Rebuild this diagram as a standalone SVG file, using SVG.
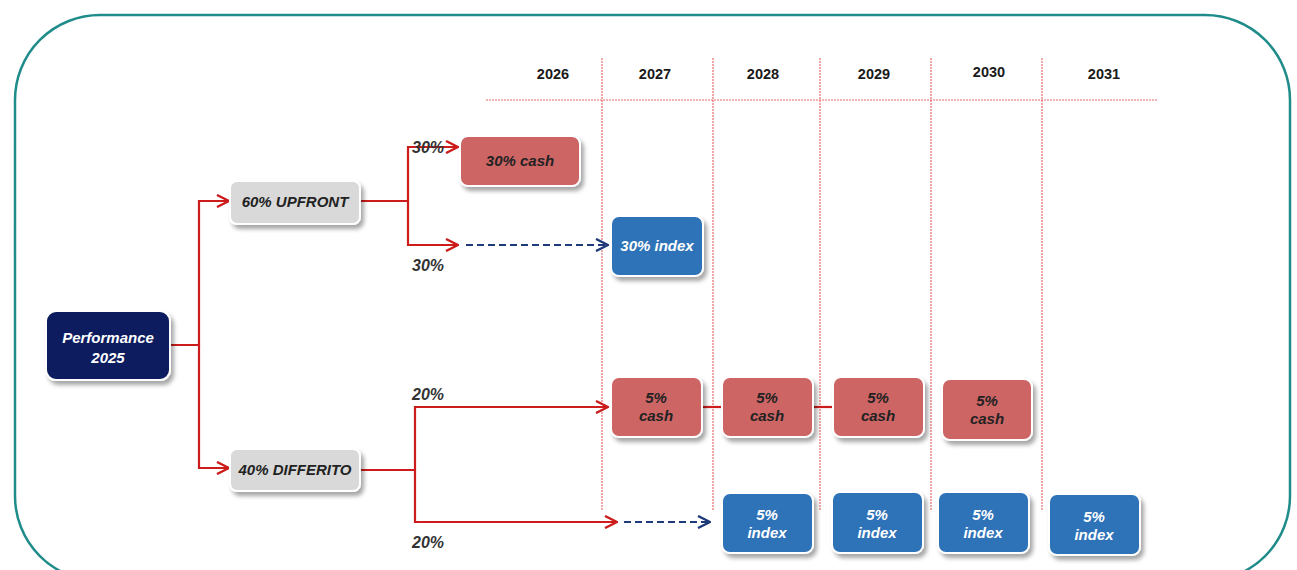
<svg xmlns="http://www.w3.org/2000/svg" width="1297" height="570" viewBox="0 0 1297 570">
<style>
.t{font-family:"Liberation Sans",Arial,sans-serif;font-weight:bold;font-style:italic;font-size:15px;text-anchor:middle}
.yr{font-family:"Liberation Sans",Arial,sans-serif;font-weight:bold;font-size:14.5px;fill:#1a1a1a;text-anchor:middle}
.pct{font-family:"Liberation Sans",Arial,sans-serif;font-weight:bold;font-style:italic;font-size:16px;fill:#333;text-anchor:middle}
.red{stroke:#cc1c1c;stroke-width:2.2;fill:none}
.dash{stroke:#1f3a7a;stroke-width:2.2;fill:none;stroke-dasharray:7 4}
.grid{stroke:#e46c6c;stroke-width:1.2;fill:none;stroke-dasharray:2 1}
.box{stroke:#fff;stroke-width:2;filter:url(#sh)}
.cash{fill:#cd6565}
.idx{fill:#2e72b8}
.gray{fill:#d9d9d9}
.navy{fill:#0d1f5e}
</style>
<defs>
<filter id="sh" x="-20%" y="-20%" width="150%" height="160%">
<feDropShadow dx="3" dy="4" stdDeviation="2" flood-color="#000" flood-opacity="0.35"/>
</filter>
<marker id="ar" viewBox="0 0 14 14" refX="13" refY="7" markerWidth="14" markerHeight="14" markerUnits="userSpaceOnUse" orient="auto">
<path d="M1,1 L13,7 L1,13" fill="none" stroke="#cc1c1c" stroke-width="2.4"/>
</marker>
<marker id="ab" viewBox="0 0 14 14" refX="13" refY="7" markerWidth="14" markerHeight="14" markerUnits="userSpaceOnUse" orient="auto">
<path d="M1,1 L13,7 L1,13" fill="none" stroke="#1f3a7a" stroke-width="2.4"/>
</marker>
</defs>
<rect x="15" y="15" width="1275" height="566" rx="85" ry="85" fill="#fff" stroke="#1f8c8a" stroke-width="2.5"/>
<g id="timeline">
<line class="grid" x1="486" y1="100" x2="1157" y2="100"/>
<line class="grid" x1="602" y1="58" x2="602" y2="510"/>
<line class="grid" x1="713" y1="58" x2="713" y2="510"/>
<line class="grid" x1="820" y1="58" x2="820" y2="510"/>
<line class="grid" x1="931" y1="58" x2="931" y2="510"/>
<line class="grid" x1="1042" y1="58" x2="1042" y2="510"/>
<text class="yr" x="553" y="79">2026</text>
<text class="yr" x="655" y="79">2027</text>
<text class="yr" x="763" y="79">2028</text>
<text class="yr" x="874" y="79">2029</text>
<text class="yr" x="989" y="77">2030</text>
<text class="yr" x="1104" y="79">2031</text>
</g>
<g id="connectors">
<path class="red" d="M170,345 H199 V201 H229" marker-end="url(#ar)"/>
<path class="red" d="M199,345 V468 H229" marker-end="url(#ar)"/>
<path class="red" d="M360,201 H408 V147 H458" marker-end="url(#ar)"/>
<path class="red" d="M408,201 V245 H458" marker-end="url(#ar)"/>
<path class="dash" d="M466,245 H608" marker-end="url(#ab)"/>
<path class="red" d="M360,470 H415 V407 H608" marker-end="url(#ar)"/>
<path class="red" d="M415,470 V522 H617" marker-end="url(#ar)"/>
<path class="dash" d="M624,522 H710" marker-end="url(#ab)"/>
<line class="red" x1="702" y1="407" x2="722" y2="407"/>
<line class="red" x1="813" y1="407" x2="833" y2="407"/>
<text class="pct" x="428" y="153">30%</text>
<text class="pct" x="428" y="271">30%</text>
<text class="pct" x="428" y="400">20%</text>
<text class="pct" x="428" y="548">20%</text>
</g>
<g id="performance">
<rect class="box navy" x="46" y="311" width="124" height="69" rx="10"/>
<text class="t" x="108" y="343" fill="#fff" font-size="16.5">Performance</text>
<text class="t" x="108" y="363" fill="#fff" font-size="16.5">2025</text>
</g>
<g id="upfront">
<rect class="box gray" x="230" y="181" width="130" height="43" rx="7"/>
<text class="t" x="295" y="207" fill="#222">60% UPFRONT</text>
</g>
<g id="differito">
<rect class="box gray" x="230" y="449" width="130" height="42" rx="7"/>
<text class="t" x="295" y="475" fill="#222">40% DIFFERITO</text>
</g>
<g id="cash30">
<rect class="box cash" x="460" y="136" width="120" height="50" rx="8"/>
<text class="t" x="520" y="166" fill="#222">30% cash</text>
</g>
<g id="index30">
<rect class="box idx" x="611" y="216" width="92" height="60" rx="8"/>
<text class="t" x="657" y="251" fill="#fff">30% index</text>
</g>
<g id="cash2027">
<rect class="box cash" x="611" y="377" width="91" height="60" rx="8"/>
<text class="t" x="656" y="403" fill="#222">5%</text>
<text class="t" x="656" y="421" fill="#222">cash</text>
</g>
<g id="cash2028">
<rect class="box cash" x="722" y="377" width="91" height="60" rx="8"/>
<text class="t" x="767" y="403" fill="#222">5%</text>
<text class="t" x="767" y="421" fill="#222">cash</text>
</g>
<g id="cash2029">
<rect class="box cash" x="833" y="377" width="91" height="60" rx="8"/>
<text class="t" x="878" y="403" fill="#222">5%</text>
<text class="t" x="878" y="421" fill="#222">cash</text>
</g>
<g id="cash2030">
<rect class="box cash" x="942" y="379" width="90" height="61" rx="8"/>
<text class="t" x="987" y="406" fill="#222">5%</text>
<text class="t" x="987" y="424" fill="#222">cash</text>
</g>
<g id="index2028">
<rect class="box idx" x="722" y="493" width="91" height="60" rx="8"/>
<text class="t" x="767" y="520" fill="#fff">5%</text>
<text class="t" x="767" y="538" fill="#fff">index</text>
</g>
<g id="index2029">
<rect class="box idx" x="832" y="492" width="91" height="61" rx="8"/>
<text class="t" x="877" y="520" fill="#fff">5%</text>
<text class="t" x="877" y="538" fill="#fff">index</text>
</g>
<g id="index2030">
<rect class="box idx" x="938" y="492" width="91" height="61" rx="8"/>
<text class="t" x="983" y="520" fill="#fff">5%</text>
<text class="t" x="983" y="538" fill="#fff">index</text>
</g>
<g id="index2031">
<rect class="box idx" x="1049" y="494" width="91" height="61" rx="8"/>
<text class="t" x="1094" y="522" fill="#fff">5%</text>
<text class="t" x="1094" y="540" fill="#fff">index</text>
</g>
</svg>
